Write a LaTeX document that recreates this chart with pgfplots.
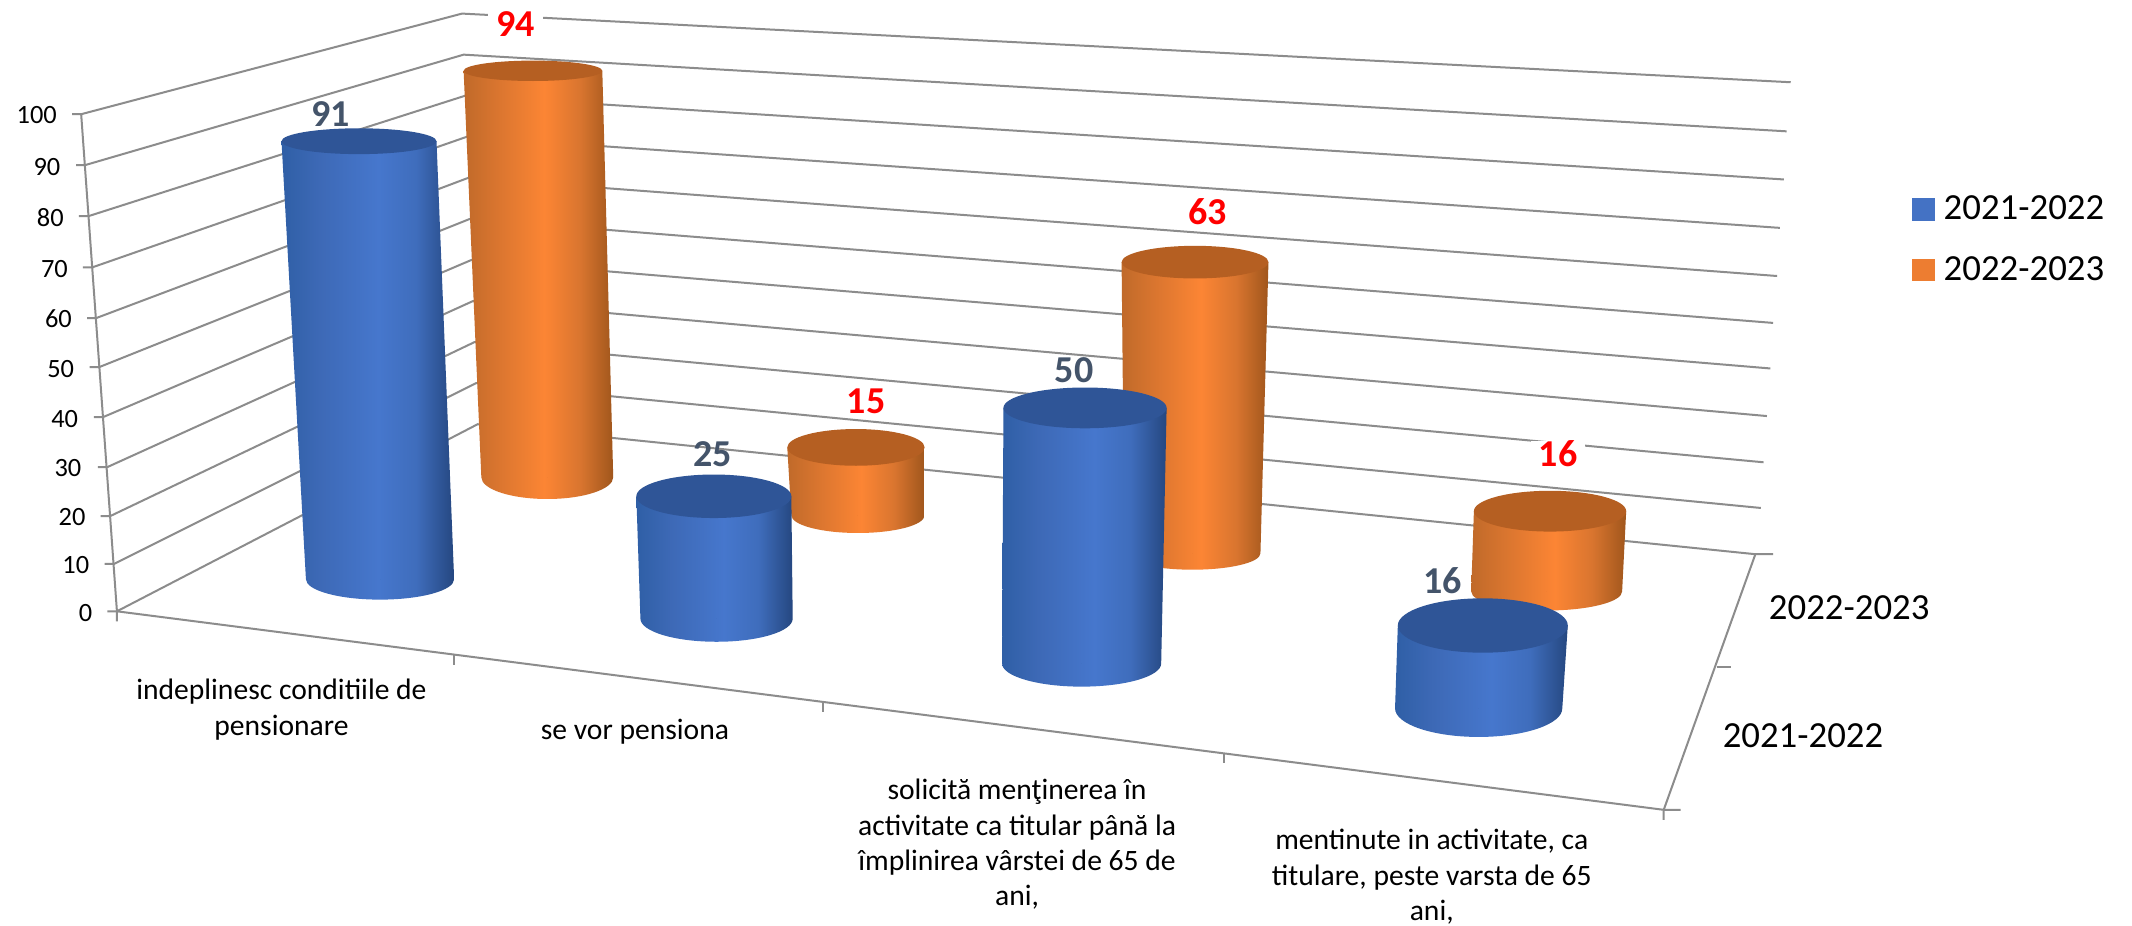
\documentclass[border=0pt]{standalone}
\usepackage{fontspec}
\setmainfont{Carlito}
\usepackage{pgfplots}
\usepackage{pgfplotstable}
\pgfplotsset{compat=1.18}

\definecolor{cblue}{HTML}{4472C4}
\definecolor{corange}{HTML}{ED7D31}
\definecolor{ctopb}{HTML}{2F5597}
\definecolor{ctopo}{HTML}{B55F22}
\definecolor{cgrid}{HTML}{8C8C8C}
\definecolor{clabel}{HTML}{44546A}
\definecolor{ba}{HTML}{2F5FA6}
\definecolor{bb}{HTML}{3D69B6}
\definecolor{bc}{HTML}{4677CD}
\definecolor{bd}{HTML}{3F6DBC}
\definecolor{be}{HTML}{254780}
\definecolor{oa}{HTML}{C06A2A}
\definecolor{ob}{HTML}{D9752F}
\definecolor{oc}{HTML}{FC8534}
\definecolor{od}{HTML}{D9752F}
\definecolor{oe}{HTML}{A0561C}

\pgfdeclarehorizontalshading{cylblue}{100bp}{
  color(0bp)=(ba); color(25bp)=(ba); color(36bp)=(bb);
  color(53bp)=(bc); color(64bp)=(bd); color(75bp)=(be); color(100bp)=(be)}
\pgfdeclarehorizontalshading{cylorange}{100bp}{
  color(0bp)=(oa); color(25bp)=(oa); color(36bp)=(ob);
  color(52bp)=(oc); color(64bp)=(od); color(75bp)=(oe); color(100bp)=(oe)}

% value, base centre (value 0), centre at level 100 above it, radii at base and top (all in px)
\pgfplotstableread{
value xb     yb  xh     yh  rxb  ryb rxt ryt
91    279.5  426 262.5  72  54.5 15  57  9.5
25    527    455 519    95  56   17  57  16
50    795.5  488 800.5  112 58.5 17  60  15
16    1087.5 521 1106.5 140 61.5 21  62.5 20
}\seriesA
\pgfplotstableread{
value xb     yb  xh     yh  rxb  ryb rxt ryt
94    402.5  351 391.3  33  48.5 16  51  7.5
15    631    379 621    46  49   13  50.5 13.5
63    877    407 880    67  50   12  54  12
16    1137.5 435 1153   66  55.5 14  56  15
}\seriesB

% data labels
\pgfplotstableread{
value lx   ly
91    243  84
25    524  334
50    790  272
16    1061 427
}\labelsA
\pgfplotstableread{
value lx   ly
94    379  18
15    637  295
63    888  156
16    1146 334
}\labelsB
% value axis tick labels
\pgfplotstableread{
value lx   ly
100   27   84.6
90    34.5 122.5
80    37   160
70    40   197.5
60    43   234.7
50    44.6 271.6
40    47.6 308
30    50   344.5
20    53   380.5
10    55.8 415.7
0     63   450.8
}\valueticks

\newcommand\drawcyl[2]{%
  \pgfmathsetmacro\tx{(\xh-\xb)/100*\val*0.68}%
  \pgfmathsetmacro\ty{-(\yh-\yb)/100*\val*0.68}%
  \pgfmathsetmacro\ra{\rxb*0.68}\pgfmathsetmacro\rb{\ryb*0.68}%
  \pgfmathsetmacro\rc{\rxt*0.68}\pgfmathsetmacro\rd{\ryt*0.68}%
  \pgfmathsetmacro\tl{\tx-\rc}\pgfmathsetmacro\tr{\tx+\rc}%
  \path[draw=none,shade,shading=#1] (\ra pt,0pt) arc[start angle=0,end angle=-180,x radius=\ra pt,y radius=\rb pt]
    -- (\tl pt,\ty pt) -- (\tr pt,\ty pt) -- cycle;
  \path[draw=none,fill=#2] (\tx pt,\ty pt) ellipse[x radius=\rc pt,y radius=\rd pt];
}

\pgfplotsset{
  cylinders/.style 2 args={
    only marks, scatter, mark=*, mark size=0pt, forget plot, point meta=explicit,
    visualization depends on={\thisrow{value}\as\val},
    visualization depends on={\thisrow{xb}\as\xb},
    visualization depends on={\thisrow{yb}\as\yb},
    visualization depends on={\thisrow{xh}\as\xh},
    visualization depends on={\thisrow{yh}\as\yh},
    visualization depends on={\thisrow{rxb}\as\rxb},
    visualization depends on={\thisrow{ryb}\as\ryb},
    visualization depends on={\thisrow{rxt}\as\rxt},
    visualization depends on={\thisrow{ryt}\as\ryt},
    scatter/@pre marker code/.code={\drawcyl{#1}{#2}},
    scatter/@post marker code/.code={},
  },
  gridl/.style={cgrid, line width=1pt, forget plot, mark=none},
  txt/.style={only marks, mark=none, forget plot, point meta=explicit, nodes near coords,
    every node near coord/.append style={anchor=center,#1}},
}

\begin{document}
\begin{tikzpicture}
\begin{axis}[
  x=0.68pt, y=0.68pt, xmin=0, xmax=1568, ymin=0, ymax=681, y dir=reverse,
  scale only axis, clip=false, ticks=none,
  axis line style={draw=none},
  axis background/.style={fill=white},
  /pgf/number format/assume math mode=true,
  legend style={at={(axis cs:1406,141)}, anchor=north west, draw=none, fill=none, inner sep=0pt, outer sep=0pt,
    font=\fontsize{18.4}{20}\selectfont, row sep=13pt, cells={anchor=west},
    /tikz/every odd column/.append style={column sep=2.7pt}},
  legend image code/.code={\fill[#1] (0pt,-5.4pt) rectangle (10.9pt,5.4pt);},
]
\addlegendimage{cblue}\addlegendentry{2021-2022}
\addlegendimage{corange}\addlegendentry{2022-2023}

% walls
\addplot[gridl] coordinates {(53,84)(59.7,84)(339.8,10)(1317,60.5)};
\addplot[gridl] coordinates {(56,121.5)(62.4,121.5)(341,40.2)(1314,96.6)};
\addplot[gridl] coordinates {(58,159)(65,159)(342.1,70.4)(1312,132)};
\addplot[gridl] coordinates {(61,196.6)(68,196.6)(343.3,100.6)(1309,167.6)};
\addplot[gridl] coordinates {(64,234)(70.6,234)(344.4,130.8)(1307,203)};
\addplot[gridl] coordinates {(66,270)(73,270)(345.6,161)(1304,237.5)};
\addplot[gridl] coordinates {(69,306.7)(76,306.7)(346.7,191.2)(1302,271)};
\addplot[gridl] coordinates {(72,343.6)(78.8,343.6)(347.9,221.4)(1299.5,306)};
\addplot[gridl] coordinates {(74,379.6)(81,379.6)(349,251.6)(1297,340)};
\addplot[gridl] coordinates {(77,414.8)(83.7,414.8)(350.2,281.8)(1295,373.6)};
\addplot[gridl] coordinates {(79,449.6)(86,449.6)(351.3,312)(1291,407.6)(1304,407.6)};
% axes and ticks
\addplot[gridl] coordinates {(59.7,84)(86,449.6)(86,457)};
\addplot[gridl] coordinates {(86,449.6)(1223.6,595.6)(1236,595.6)};
\addplot[gridl] coordinates {(1223.6,603)(1223.6,595.6)(1291,407.6)};
\addplot[gridl] coordinates {(1262.5,490.4)(1273,490.4)};
\addplot[gridl] coordinates {(334,481.7)(334,489)};
\addplot[gridl] coordinates {(605,516.4)(605,524)};
\addplot[gridl] coordinates {(900,554)(900,561)};

% cylinders, back row first
\addplot[cylinders={cylorange}{ctopo}] table[x=xb,y=yb,meta=value] {\seriesB};
\addplot[cylinders={cylblue}{ctopb}] table[x=xb,y=yb,meta=value] {\seriesA};

% value labels
\addplot[txt={text=clabel,font=\fontsize{19}{19}\bfseries}] table[x=lx,y=ly,meta=value] {\labelsA};
\addplot[txt={text=red,fill=white,inner xsep=4pt,inner ysep=0pt,font=\fontsize{19}{19}\bfseries}] table[x=lx,y=ly,meta=value] {\labelsB};
\addplot[txt={text=black,font=\fontsize{13.2}{14}\selectfont}] table[x=lx,y=ly,meta=value] {\valueticks};

% category and depth labels
\tikzset{cat/.style={align=center,font=\fontsize{14.8}{17.7}\selectfont,anchor=center,inner sep=0pt}}
\node[cat] at (axis cs:207,522) {indeplinesc conditiile de\\pensionare};
\node[cat] at (axis cs:467,538) {se vor pensiona};
\node[cat] at (axis cs:748,621) {solicită menţinerea în\\activitate ca titular până la\\împlinirea vârstei de 65 de\\ani,};
\node[cat] at (axis cs:1053,645) {mentinute in activitate, ca\\titulare, peste varsta de 65\\ani,};
\node[font=\fontsize{18.4}{20}\selectfont] at (axis cs:1360,447) {2022-2023};
\node[font=\fontsize{18.4}{20}\selectfont] at (axis cs:1326,541) {2021-2022};
\end{axis}
\end{tikzpicture}
\end{document}
